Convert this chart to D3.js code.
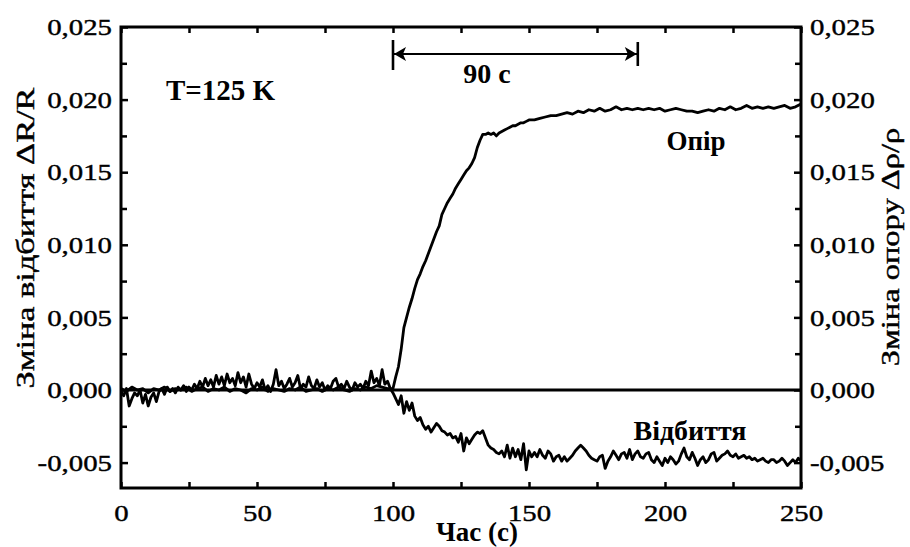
<!DOCTYPE html>
<html>
<head>
<meta charset="utf-8">
<script src="https://cdn.jsdelivr.net/npm/d3@7"></script>
<style>
  html, body { margin: 0; padding: 0; background: #fff; }
  svg { display: block; }
</style>
</head>
<body>
<svg id="chart" width="910" height="547" font-family="Liberation Serif"></svg>
<script>
// Time (s) and relative change of reflectance ΔR/R
const reflectance = [
  [0,-0.0001],[1,-0.0004],[2,0.0001],[3,-0.0011],[4,-0.0006],[5,-0.0002],[6,-0.0004],[7,0.0000],[8,-0.0009],[9,-0.0003],
  [10,-0.0011],[11,-0.0005],[12,-0.0002],[13,-0.0008],[14,-0.0001],[15,0.0001],[16,-0.0003],[17,0.0002],[18,-0.0001],[19,0.0001],
  [20,-0.0002],[21,0.0002],[22,0.0000],[23,0.0003],[24,-0.0001],[25,0.0002],[26,0.0000],[27,0.0004],[28,0.0001],[29,0.0006],
  [30,0.0002],[31,0.0008],[32,0.0003],[33,0.0007],[34,0.0002],[35,0.0010],[36,0.0004],[37,0.0009],[38,0.0003],[39,0.0011],
  [40,0.0005],[41,0.0008],[42,0.0003],[43,0.0012],[44,0.0005],[45,0.0009],[46,0.0002],[47,0.0011],[48,0.0004],[49,0.0001],
  [50,0.0005],[51,0.0002],[52,0.0007],[53,0.0000],[54,0.0003],[55,-0.0001],[56,0.0004],[57,0.0014],[58,0.0003],[59,0.0006],
  [60,0.0001],[61,0.0004],[62,0.0008],[63,0.0002],[64,0.0005],[65,0.0010],[66,0.0001],[67,0.0004],[68,0.0002],[69,0.0009],
  [70,0.0003],[71,0.0001],[72,0.0007],[73,0.0002],[74,0.0005],[75,0.0000],[76,0.0003],[77,0.0001],[78,0.0006],[79,0.0008],
  [80,0.0002],[81,0.0004],[82,0.0001],[83,0.0006],[84,0.0002],[85,0.0000],[86,0.0005],[87,0.0002],[88,0.0004],[89,0.0001],
  [90,0.0006],[91,0.0003],[92,0.0013],[93,0.0005],[94,0.0008],[95,0.0003],[96,0.0014],[97,0.0004],[98,0.0006],[99,0.0001],
  [100,-0.0002],[101,-0.0006],[102,-0.0010],[103,-0.0004],[104,-0.0016],[105,-0.0008],[106,-0.0014],[107,-0.0009],[108,-0.0018],[109,-0.0021],
  [110,-0.0019],[111,-0.0024],[112,-0.0027],[113,-0.0025],[114,-0.0029],[115,-0.0026],[116,-0.0023],[117,-0.0025],[118,-0.0028],[119,-0.0029],
  [120,-0.0031],[121,-0.0030],[122,-0.0033],[123,-0.0032],[124,-0.0036],[125,-0.0030],[126,-0.0042],[127,-0.0033],[128,-0.0037],[129,-0.0034],
  [130,-0.0031],[131,-0.0029],[132,-0.0030],[133,-0.0028],[134,-0.0033],[135,-0.0038],[136,-0.0040],[137,-0.0041],[138,-0.0043],[139,-0.0044],
  [140,-0.0042],[141,-0.0046],[142,-0.0038],[143,-0.0047],[144,-0.0040],[145,-0.0046],[146,-0.0041],[147,-0.0048],[148,-0.0037],[149,-0.0055],
  [150,-0.0042],[151,-0.0046],[152,-0.0043],[153,-0.0046],[154,-0.0041],[155,-0.0045],[156,-0.0047],[157,-0.0042],[158,-0.0044],[159,-0.0049],
  [160,-0.0046],[161,-0.0045],[162,-0.0049],[163,-0.0046],[164,-0.0049],[165,-0.0047],[166,-0.0045],[167,-0.0042],[168,-0.0040],[169,-0.0038],
  [170,-0.0040],[171,-0.0042],[172,-0.0045],[173,-0.0047],[174,-0.0048],[175,-0.0049],[176,-0.0046],[177,-0.0045],[178,-0.0054],[179,-0.0049],
  [180,-0.0046],[181,-0.0042],[182,-0.0045],[183,-0.0048],[184,-0.0044],[185,-0.0043],[186,-0.0047],[187,-0.0041],[188,-0.0048],[189,-0.0044],
  [190,-0.0042],[191,-0.0046],[192,-0.0047],[193,-0.0044],[194,-0.0043],[195,-0.0048],[196,-0.0050],[197,-0.0046],[198,-0.0049],[199,-0.0052],
  [200,-0.0047],[201,-0.0050],[202,-0.0046],[203,-0.0048],[204,-0.0051],[205,-0.0049],[206,-0.0044],[207,-0.0040],[208,-0.0046],[209,-0.0048],
  [210,-0.0043],[211,-0.0047],[212,-0.0052],[213,-0.0048],[214,-0.0046],[215,-0.0050],[216,-0.0048],[217,-0.0044],[218,-0.0043],[219,-0.0049],
  [220,-0.0047],[221,-0.0045],[222,-0.0044],[223,-0.0042],[224,-0.0045],[225,-0.0046],[226,-0.0044],[227,-0.0047],[228,-0.0046],[229,-0.0045],
  [230,-0.0047],[231,-0.0046],[232,-0.0048],[233,-0.0047],[234,-0.0049],[235,-0.0048],[236,-0.0047],[237,-0.0049],[238,-0.0050],[239,-0.0048],
  [240,-0.0048],[241,-0.0050],[242,-0.0049],[243,-0.0047],[244,-0.0049],[245,-0.0052],[246,-0.0050],[247,-0.0048],[248,-0.0050],[249,-0.0047],
  [250,-0.0049]
];

// Time (s) and relative change of resistance Δρ/ρ
const resistance = [
  [0,0.0001],[2,-0.0001],[4,0.0002],[6,0.0000],[8,0.0001],[10,-0.0002],[12,0.0001],[14,0.0000],[16,0.0002],[18,-0.0001],
  [20,0.0001],[22,0.0000],[24,0.0002],[26,-0.0001],[28,0.0001],[30,0.0002],[32,-0.0001],[34,0.0001],[36,0.0000],[38,0.0002],
  [40,-0.0001],[42,0.0001],[44,0.0000],[46,-0.0002],[48,0.0001],[50,0.0000],[52,0.0002],[54,-0.0001],[56,0.0001],[58,0.0000],
  [60,-0.0001],[62,0.0001],[64,0.0000],[66,0.0002],[68,-0.0001],[70,0.0000],[72,0.0001],[74,-0.0001],[76,0.0001],[78,0.0000],
  [80,0.0002],[82,0.0000],[84,-0.0001],[86,0.0001],[88,0.0000],[90,0.0002],[92,0.0001],[94,0.0003],[96,0.0002],[98,0.0001],
  [100,0.0001],[101,0.0009],[102,0.0016],[103,0.0028],[104,0.0043],[105,0.0050],[106,0.0057],[107,0.0063],[108,0.0070],[109,0.0076],
  [110,0.0080],[111,0.0085],[112,0.0089],[113,0.0094],[114,0.0099],[115,0.0104],[116,0.0109],[117,0.0113],[118,0.0121],[119,0.0125],
  [120,0.0129],[121,0.0132],[122,0.0135],[123,0.0139],[124,0.0142],[125,0.0145],[126,0.0148],[127,0.0151],[128,0.0153],[129,0.0156],
  [130,0.0160],[131,0.0167],[132,0.0172],[133,0.0176],[134,0.0176],[135,0.0177],[136,0.0176],[137,0.0177],[138,0.0175],[139,0.0177],
  [140,0.0178],[141,0.0179],[142,0.0180],[143,0.0181],[144,0.0182],[145,0.0182],[146,0.0183],[147,0.0184],[148,0.0184],[149,0.0185],
  [150,0.0186],[152,0.0186],[154,0.0187],[156,0.0188],[158,0.0189],[160,0.0189],[162,0.0190],[164,0.0191],[166,0.0190],[168,0.0192],
  [170,0.0191],[172,0.0193],[174,0.0192],[176,0.0194],[178,0.0192],[180,0.0193],[182,0.0195],[184,0.0193],[186,0.0194],[188,0.0193],
  [190,0.0194],[192,0.0193],[194,0.0194],[196,0.0193],[198,0.0194],[200,0.0192],[202,0.0193],[204,0.0194],[206,0.0193],[208,0.0192],
  [210,0.0192],[212,0.0191],[214,0.0192],[216,0.0193],[218,0.0192],[220,0.0194],[222,0.0193],[224,0.0195],[226,0.0193],[228,0.0194],
  [230,0.0196],[232,0.0194],[234,0.0195],[236,0.0194],[238,0.0195],[240,0.0194],[242,0.0195],[244,0.0196],[246,0.0194],[248,0.0195],
  [250,0.0197]
];

// Axis ticks
const xTicks = [0, 50, 100, 150, 200, 250];
const xMinorTicks = [25, 75, 125, 175, 225];
const yTicks = [-0.005, 0.000, 0.005, 0.010, 0.015, 0.020, 0.025];
const yMinorTicks = [-0.0025, 0.0025, 0.0075, 0.0125, 0.0175, 0.0225];

// Annotations
const tempLabel = "T=125 K";
const intervalStart = 100;   // s
const intervalLength = 90;   // s
const seriesLabels = { resistance: "Опір", reflectance: "Відбиття" };
const xTitle = "Час (с)";
const yLeftTitle = "Зміна відбиття ΔR/R";
const yRightTitle = "Зміна опору Δρ/ρ";

const SERIF = "Liberation Serif";
const svg = d3.select("#chart");
const plot = { left: 121, right: 801, top: 27, bottom: 488 };

const x = d3.scaleLinear().domain([0, 250]).range([plot.left, plot.right]);
const y = d3.scaleLinear().domain([-0.00675, 0.025]).range([plot.bottom, plot.top]);

const locale = d3.formatLocale({ decimal: ",", thousands: " ", grouping: [3], currency: ["", ""], minus: "-" });
const fmt = locale.format(".3f");

// widen a text horizontally by factor k (the printed face is broader)
function stretch(sel, k) {
  sel.each(function () {
    const w = this.getComputedTextLength();
    this.setAttribute("textLength", w * k);
    this.setAttribute("lengthAdjust", "spacingAndGlyphs");
  });
}

const tickFont = 24;
const tickStretch = 1.2;
const inkStroke = 0.4;   // slight ink spread on regular-weight text

// ---- Axes ----
const bottomAxis = d3.axisBottom(x).tickValues(xTicks).tickSizeInner(-6).tickSizeOuter(0).tickPadding(16).tickFormat(d3.format("d"));
const bottomMinor = d3.axisBottom(x).tickValues(xMinorTicks).tickSizeInner(-6).tickSizeOuter(0).tickFormat("");
const topAxis = d3.axisTop(x).tickValues(xTicks.concat(xMinorTicks)).tickSizeInner(-6).tickSizeOuter(0).tickFormat("");
const leftAxis = d3.axisLeft(y).tickValues(yTicks).tickSizeInner(-7).tickSizeOuter(0).tickPadding(9).tickFormat(fmt);
const leftMinor = d3.axisLeft(y).tickValues(yMinorTicks).tickSizeInner(-6).tickSizeOuter(0).tickFormat("");
const rightAxis = d3.axisRight(y).tickValues(yTicks).tickSizeInner(-7).tickSizeOuter(0).tickPadding(9).tickFormat(fmt);
const rightMinor = d3.axisRight(y).tickValues(yMinorTicks).tickSizeInner(-6).tickSizeOuter(0).tickFormat("");

function styleAxis(g) {
  g.attr("font-family", SERIF).attr("font-size", tickFont);
  g.select(".domain").remove();
  g.selectAll(".tick line").attr("stroke", "#000").attr("stroke-width", 2.5);
  g.selectAll("text").attr("fill", "#000").attr("stroke", "#000").attr("stroke-width", inkStroke);
}

const gb = svg.append("g").attr("transform", `translate(0,${plot.bottom})`).call(bottomAxis).call(styleAxis);
gb.selectAll("text").attr("dy", "0.71em");
svg.append("g").attr("transform", `translate(0,${plot.bottom})`).call(bottomMinor).call(styleAxis);
svg.append("g").attr("transform", `translate(0,${plot.top})`).call(topAxis).call(styleAxis);
const gl = svg.append("g").attr("transform", `translate(${plot.left},0)`).call(leftAxis).call(styleAxis);
svg.append("g").attr("transform", `translate(${plot.left},0)`).call(leftMinor).call(styleAxis);
const gr = svg.append("g").attr("transform", `translate(${plot.right},0)`).call(rightAxis).call(styleAxis);
svg.append("g").attr("transform", `translate(${plot.right},0)`).call(rightMinor).call(styleAxis);

stretch(gb.selectAll("text"), tickStretch);
stretch(gl.selectAll("text"), tickStretch);
stretch(gr.selectAll("text"), tickStretch);

// ---- Frame ----
svg.append("rect")
  .attr("x", plot.left).attr("y", plot.top)
  .attr("width", plot.right - plot.left).attr("height", plot.bottom - plot.top)
  .attr("fill", "none").attr("stroke", "#000").attr("stroke-width", 3);

// ---- Zero baseline ----
svg.append("line")
  .attr("x1", x(0)).attr("x2", x(250))
  .attr("y1", y(0)).attr("y2", y(0))
  .attr("stroke", "#000").attr("stroke-width", 2.8);

// ---- Curves ----
const line = d3.line().x(d => x(d[0])).y(d => y(d[1]));
const curves = svg.append("g").attr("fill", "none").attr("stroke", "#000").attr("stroke-linejoin", "round");
curves.append("path").datum(reflectance).attr("d", line).attr("stroke-width", 2.8);
curves.append("path").datum(resistance).attr("d", line).attr("stroke-width", 2.8);

// ---- Annotations ----
const txt = svg.append("g").attr("font-family", SERIF).attr("fill", "#000");
txt.append("text").attr("x", 166).attr("y", 100).attr("font-size", 29).attr("font-weight", "bold").text(tempLabel);

const ax1 = x(intervalStart), ax2 = x(intervalStart + intervalLength), ay = 54;
const ann = svg.append("g").attr("stroke", "#000").attr("fill", "#000");
ann.append("line").attr("x1", ax1).attr("x2", ax2).attr("y1", ay).attr("y2", ay).attr("stroke-width", 2.2);
ann.append("line").attr("x1", ax1).attr("x2", ax1).attr("y1", ay - 14).attr("y2", ay + 16).attr("stroke-width", 2.6);
ann.append("line").attr("x1", ax2).attr("x2", ax2).attr("y1", ay - 12).attr("y2", ay + 12).attr("stroke-width", 2.6);
ann.append("path").attr("stroke", "none")
  .attr("d", `M${ax1 + 1},${ay} L${ax1 + 13},${ay - 7} L${ax1 + 10},${ay} L${ax1 + 13},${ay + 7} Z`);
ann.append("path").attr("stroke", "none")
  .attr("d", `M${ax2 - 1},${ay} L${ax2 - 13},${ay - 7} L${ax2 - 10},${ay} L${ax2 - 13},${ay + 7} Z`);
txt.append("text").attr("x", 487).attr("y", 83).attr("text-anchor", "middle")
  .attr("font-size", 28).attr("font-weight", "bold").text(`${intervalLength} с`);

txt.append("text").attr("x", 696).attr("y", 150).attr("text-anchor", "middle")
  .attr("font-size", 27).attr("font-weight", "bold").text(seriesLabels.resistance);
txt.append("text").attr("x", 690).attr("y", 440).attr("text-anchor", "middle")
  .attr("font-size", 28).attr("font-weight", "bold").text(seriesLabels.reflectance);

// ---- Axis titles ----
txt.append("text").attr("x", 477).attr("y", 541).attr("text-anchor", "middle")
  .attr("font-size", 27).attr("font-weight", "bold").text(xTitle);
const tl = txt.append("text").attr("transform", "translate(34,238) rotate(-90)").attr("text-anchor", "middle")
  .attr("font-size", 26).attr("stroke", "#000").attr("stroke-width", inkStroke).text(yLeftTitle);
const tr = txt.append("text").attr("transform", "translate(899,247) rotate(-90)").attr("text-anchor", "middle")
  .attr("font-size", 26).attr("stroke", "#000").attr("stroke-width", inkStroke).text(yRightTitle);
stretch(tl, 1.32);
stretch(tr, 1.25);
</script>
</body>
</html>
